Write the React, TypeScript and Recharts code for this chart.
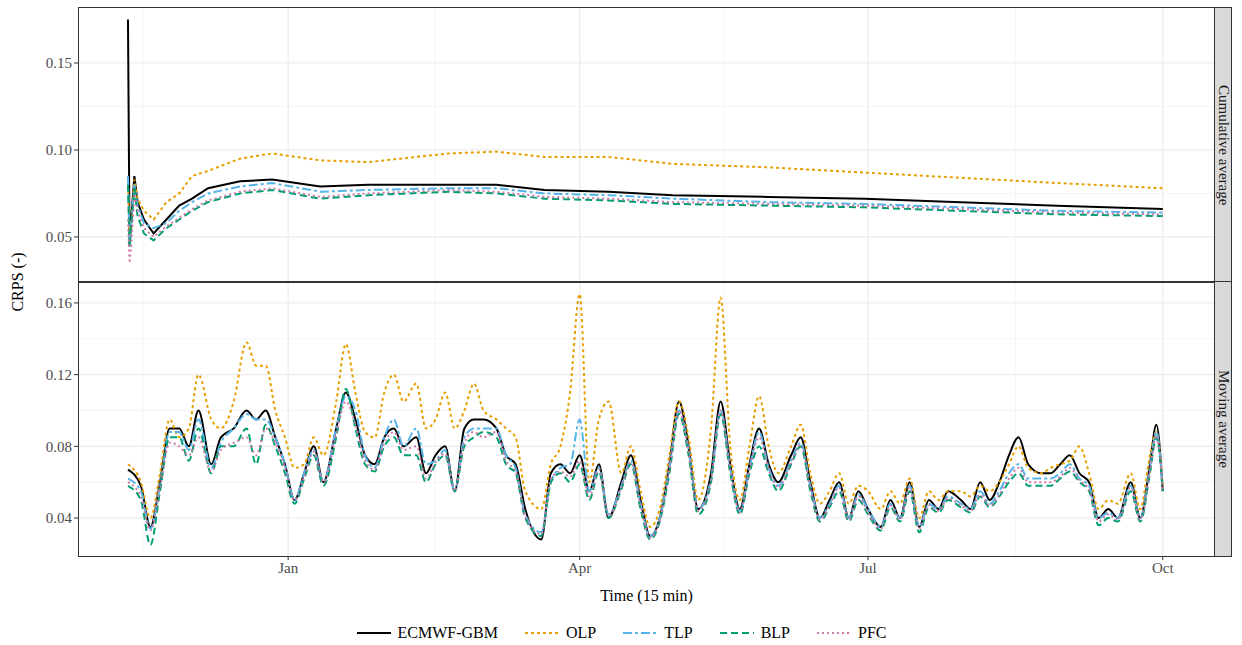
import { LineChart, Line, XAxis, YAxis, ReferenceLine } from "recharts";

// days since 12 Nov
const topDays = [0, 0.5, 1, 2, 3, 5, 8, 12, 16, 20, 25, 35, 45, 60, 75, 100, 115, 130, 150, 170, 200, 230, 260, 290, 323];
const topEcmwf = [0.175, 0.045, 0.060, 0.085, 0.070, 0.060, 0.052, 0.060, 0.068, 0.072, 0.078, 0.082, 0.083, 0.079, 0.080, 0.080, 0.080, 0.077, 0.076, 0.074, 0.073, 0.072, 0.070, 0.068, 0.066];
const topOlp = [0.080, 0.050, 0.055, 0.083, 0.072, 0.065, 0.060, 0.070, 0.075, 0.085, 0.088, 0.095, 0.098, 0.094, 0.093, 0.098, 0.099, 0.096, 0.096, 0.092, 0.090, 0.087, 0.084, 0.081, 0.078];
const topTlp = [0.085, 0.045, 0.058, 0.080, 0.068, 0.058, 0.055, 0.058, 0.065, 0.070, 0.075, 0.079, 0.081, 0.076, 0.077, 0.078, 0.078, 0.075, 0.074, 0.072, 0.070, 0.069, 0.067, 0.065, 0.064];
const topBlp = [0.080, 0.044, 0.055, 0.078, 0.062, 0.052, 0.048, 0.055, 0.060, 0.065, 0.070, 0.075, 0.077, 0.072, 0.074, 0.076, 0.075, 0.072, 0.071, 0.069, 0.068, 0.067, 0.065, 0.063, 0.062];
const topPfc = [0.060, 0.035, 0.045, 0.075, 0.065, 0.055, 0.050, 0.056, 0.061, 0.066, 0.071, 0.076, 0.078, 0.073, 0.075, 0.077, 0.076, 0.073, 0.072, 0.070, 0.069, 0.068, 0.066, 0.064, 0.063];

const botDays = [
  0, 4, 7, 10, 13, 16, 19, 22, 26, 29,
  33, 37, 40, 43, 46, 49, 52, 55, 58, 61,
  65, 68, 71, 74, 77, 80, 83, 86, 90, 93,
  96, 99, 102, 105, 108, 111, 115, 118, 121, 124,
  129, 132, 135, 138, 141, 144, 147, 150, 154, 157,
  160, 163, 166, 169, 172, 175, 178, 182, 185, 188,
  191, 194, 197, 200, 203, 207, 210, 213, 216, 219,
  222, 225, 228, 231, 235, 238, 241, 244, 247, 250,
  253, 256, 260, 263, 266, 269, 272, 275, 278, 281,
  285, 288, 291, 294, 297, 300, 303, 306, 309, 313,
  316, 319, 321, 323,
];
const botEcmwf = [
  .067, .058, .035, .060, .090, .090, .080, .100, .070, .085,
  .090, .100, .095, .100, .085, .070, .050, .065, .080, .060,
  .090, .110, .095, .075, .070, .085, .090, .080, .085, .065,
  .075, .080, .055, .090, .095, .095, .090, .075, .070, .045,
  .028, .065, .070, .065, .075, .055, .070, .040, .060, .075,
  .050, .030, .040, .070, .105, .080, .045, .065, .105, .070,
  .045, .070, .090, .070, .060, .075, .085, .060, .040, .050,
  .060, .040, .055, .045, .035, .050, .040, .060, .035, .050,
  .045, .055, .050, .045, .060, .050, .060, .075, .085, .070,
  .065, .065, .070, .075, .065, .060, .040, .045, .040, .060,
  .040, .070, .092, .055,
];
const botOlp = [
  .070, .060, .040, .065, .095, .085, .090, .120, .095, .090,
  .105, .138, .125, .125, .100, .085, .068, .070, .085, .075,
  .105, .137, .110, .088, .085, .110, .120, .105, .115, .090,
  .095, .110, .090, .100, .115, .100, .095, .090, .085, .055,
  .045, .070, .080, .110, .165, .060, .095, .105, .065, .080,
  .055, .035, .045, .075, .105, .085, .050, .090, .163, .080,
  .050, .080, .108, .080, .065, .080, .092, .065, .048, .055,
  .065, .048, .058, .055, .045, .055, .048, .062, .040, .055,
  .050, .055, .055, .052, .058, .055, .060, .070, .080, .068,
  .065, .068, .070, .072, .080, .065, .045, .050, .048, .065,
  .045, .075, .088, .058,
];
const botTlp = [
  .062, .055, .034, .058, .088, .088, .078, .095, .068, .082,
  .090, .098, .095, .095, .085, .070, .050, .065, .078, .060,
  .090, .108, .100, .075, .068, .085, .095, .080, .090, .070,
  .072, .078, .055, .085, .090, .090, .090, .075, .068, .042,
  .032, .060, .068, .070, .095, .055, .068, .042, .058, .072,
  .048, .030, .040, .068, .100, .078, .045, .062, .100, .068,
  .044, .068, .088, .068, .058, .072, .082, .058, .040, .048,
  .058, .040, .053, .045, .035, .048, .040, .058, .035, .048,
  .045, .052, .048, .045, .055, .048, .055, .065, .070, .062,
  .062, .062, .065, .070, .062, .058, .040, .043, .040, .058,
  .040, .068, .088, .056,
];
const botBlp = [
  .058, .050, .025, .055, .085, .085, .072, .090, .065, .080,
  .080, .090, .070, .092, .080, .065, .048, .062, .075, .058,
  .085, .112, .090, .070, .066, .080, .085, .075, .075, .060,
  .070, .075, .055, .080, .085, .088, .085, .070, .065, .040,
  .030, .060, .065, .060, .070, .050, .066, .040, .056, .070,
  .045, .028, .038, .065, .098, .075, .042, .060, .098, .065,
  .042, .065, .080, .065, .055, .070, .080, .055, .038, .046,
  .055, .038, .050, .042, .033, .046, .038, .055, .032, .046,
  .043, .050, .046, .043, .052, .046, .052, .060, .065, .058,
  .058, .058, .062, .066, .060, .055, .036, .040, .038, .055,
  .038, .065, .085, .055,
];
const botPfc = [
  .060, .052, .033, .057, .082, .080, .075, .085, .066, .078,
  .082, .085, .075, .090, .082, .068, .050, .063, .077, .060,
  .087, .105, .092, .072, .067, .082, .088, .078, .080, .062,
  .071, .076, .055, .082, .088, .085, .088, .072, .066, .041,
  .031, .062, .066, .063, .072, .052, .067, .041, .057, .071,
  .047, .029, .039, .067, .100, .077, .044, .061, .100, .067,
  .043, .067, .085, .067, .057, .071, .081, .057, .039, .047,
  .057, .039, .052, .043, .034, .047, .039, .057, .034, .047,
  .044, .051, .047, .044, .053, .047, .053, .062, .068, .060,
  .060, .060, .063, .068, .061, .056, .038, .042, .039, .057,
  .039, .066, .086, .056,
];

const xTicks = [50, 141, 231, 323];
const xTickLabels = ["Jan", "Apr", "Jul", "Oct"];
const xMinor = [4.7, 95.8, 186, 277];
const topTicks = [0.05, 0.1, 0.15];
const topMinor = [0.075, 0.125];
const botTicks = [0.04, 0.08, 0.12, 0.16];
const botMinor = [0.06, 0.1, 0.14];

const topData = topDays.map((d, i) => ({ day: d, E: topEcmwf[i], O: topOlp[i], T: topTlp[i], B: topBlp[i], P: topPfc[i] }));
const botData = botDays.map((d, i) => ({ day: d, E: botEcmwf[i], O: botOlp[i], T: botTlp[i], B: botBlp[i], P: botPfc[i] }));

const series = [
  { key: "E", name: "ECMWF-GBM", color: "#000000", dash: undefined as string | undefined },
  { key: "O", name: "OLP", color: "#E69F00", dash: "3 3" },
  { key: "T", name: "TLP", color: "#56B4E9", dash: "9 3 3 3" },
  { key: "B", name: "BLP", color: "#009E73", dash: "7 4" },
  { key: "P", name: "PFC", color: "#CC79A7", dash: "2 3" },
];

const font = "'Liberation Serif', 'Times New Roman', serif";
const tickStyle = { fill: "#4d4d4d", fontSize: 15, fontFamily: font };
const xDomain = [-15.6, 339];

function grid(major: number[], minor: number[]) {
  return [
    ...xMinor.map((x) => <ReferenceLine key={"xm" + x} x={x} stroke="#f2f2f2" strokeWidth={0.8} />),
    ...xTicks.map((x) => <ReferenceLine key={"xM" + x} x={x} stroke="#ebebeb" strokeWidth={1.2} />),
    ...minor.map((y) => <ReferenceLine key={"ym" + y} y={y} stroke="#f2f2f2" strokeWidth={0.8} />),
    ...major.map((y) => <ReferenceLine key={"yM" + y} y={y} stroke="#ebebeb" strokeWidth={1.2} />),
  ];
}

function lines(kind: "linear" | "monotone") {
  return series.map((s) => (
    <Line key={s.key} type={kind} dataKey={s.key} stroke={s.color} strokeWidth={2}
      strokeDasharray={s.dash} dot={false} isAnimationActive={false} />
  ));
}

const box = { position: "absolute" as const, border: "1.5px solid #333", boxSizing: "border-box" as const, pointerEvents: "none" as const };
const strip = { position: "absolute" as const, left: 1214, width: 18, background: "#d9d9d9", border: "1.5px solid #333", boxSizing: "border-box" as const, display: "flex", alignItems: "center", justifyContent: "center" };
const stripText = { writingMode: "vertical-rl" as const, fontFamily: font, fontSize: 15, color: "#1a1a1a", whiteSpace: "nowrap" as const };

export default function App() {
  return (
    <div style={{ position: "absolute", left: 0, top: 0, width: 1242, height: 645, background: "#fff", fontFamily: font }}>
      <div style={{ position: "absolute", left: 0, top: 0 }}>
        <LineChart width={1242} height={282} data={topData} margin={{ top: 8, right: 28, bottom: 0, left: 18 }}>
          <XAxis dataKey="day" type="number" domain={xDomain} allowDataOverflow hide />
          <YAxis type="number" domain={[0.0241, 0.1816]} allowDataOverflow ticks={topTicks} width={60}
            tick={tickStyle} tickFormatter={(v: number) => v.toFixed(2)} axisLine={false} tickSize={4} stroke="#333" />
          {grid(topTicks, topMinor)}
          {lines("linear")}
        </LineChart>
      </div>
      <div style={{ position: "absolute", left: 0, top: 282 }}>
        <LineChart width={1242} height={363} data={botData} margin={{ top: 0, right: 28, bottom: 69, left: 18 }}>
          <XAxis dataKey="day" type="number" domain={xDomain} allowDataOverflow ticks={xTicks} height={20}
            tick={tickStyle} tickFormatter={(v: number) => xTickLabels[xTicks.indexOf(v)]} axisLine={false} tickSize={4} stroke="#333" />
          <YAxis type="number" domain={[0.0188, 0.1717]} allowDataOverflow ticks={botTicks} width={60}
            tick={tickStyle} tickFormatter={(v: number) => v.toFixed(2)} axisLine={false} tickSize={4} stroke="#333" />
          {grid(botTicks, botMinor)}
          {lines("monotone")}
        </LineChart>
      </div>
      <div style={{ ...box, left: 78, top: 7, width: 1137, height: 276 }} />
      <div style={{ ...box, left: 78, top: 281, width: 1137, height: 276 }} />
      <div style={{ ...strip, top: 7, height: 276 }}><span style={stripText}>Cumulative average</span></div>
      <div style={{ ...strip, top: 281, height: 276 }}><span style={stripText}>Moving average</span></div>
      <div style={{ position: "absolute", left: 0, top: 282, width: 36, height: 0 }}>
        <div style={{ position: "absolute", left: 18, top: 0, transform: "translate(-50%,-50%) rotate(-90deg)", fontSize: 16, whiteSpace: "nowrap" }}>CRPS (-)</div>
      </div>
      <div style={{ position: "absolute", left: 78, width: 1137, top: 587, textAlign: "center", fontSize: 16 }}>Time (15 min)</div>
      <div style={{ position: "absolute", left: 0, width: 1242, top: 624, display: "flex", justifyContent: "center", gap: 26, fontSize: 16 }}>
        {series.map((s) => (
          <div key={s.key} style={{ display: "flex", alignItems: "center", gap: 6 }}>
            <svg width={36} height={12}>
              <line x1={1} y1={6} x2={35} y2={6} stroke={s.color} strokeWidth={2} strokeDasharray={s.dash} />
            </svg>
            <span>{s.name}</span>
          </div>
        ))}
      </div>
    </div>
  );
}
